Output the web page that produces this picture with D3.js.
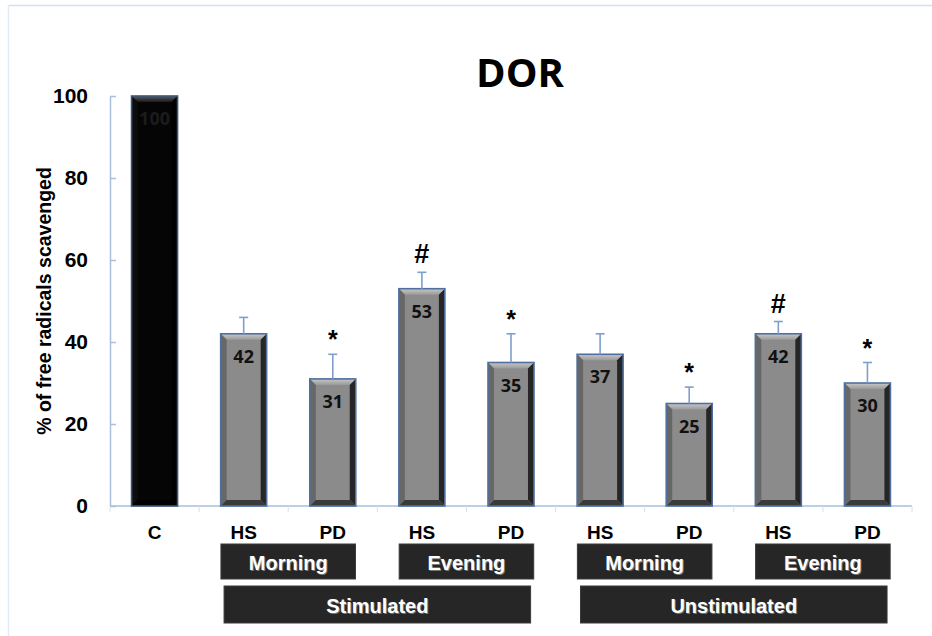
<!DOCTYPE html>
<html>
<head>
<meta charset="utf-8">
<script src="https://cdn.jsdelivr.net/npm/d3@7"></script>
<style>
  body { margin: 0; background: #fff; }
  svg { display: block; }
</style>
</head>
<body>
<div id="chart"></div>
<script>
// data
const categories = ["C", "HS1", "PD1", "HS2", "PD2", "HS3", "PD3", "HS4", "PD4"];
const catLabels = ["C", "HS", "PD", "HS", "PD", "HS", "PD", "HS", "PD"];
const values = [100, 42, 31, 53, 35, 37, 25, 42, 30];
const errors = [0, 4, 6, 4, 7, 5, 4, 3, 5];
const marks = ["", "", "*", "#", "*", "", "*", "#", "*"];
const yTicks = [0, 20, 40, 60, 80, 100];
const timeLabels = ["Morning", "Evening", "Morning", "Evening"];
const timeSpans = [["HS1", "PD1"], ["HS2", "PD2"], ["HS3", "PD3"], ["HS4", "PD4"]];
const stimLabels = ["Stimulated", "Unstimulated"];
const stimSpans = [["HS1", "PD2"], ["HS3", "PD4"]];

const W = 932, H = 636;
const plot = { left: 110, right: 912, top: 96, bottom: 506 };
const arial = "'Liberation Sans', Arial, sans-serif";
const axisColor = "#a9bfdc";

const svg = d3.select("#chart").append("svg")
    .attr("width", W)
    .attr("height", H);

// faint frame of the original slide
svg.append("line").attr("x1", 8).attr("x2", W).attr("y1", 5.5).attr("y2", 5.5)
    .attr("stroke", "#d3e0ef").attr("stroke-width", 1.5);
svg.append("line").attr("x1", 8.5).attr("x2", 8.5).attr("y1", 5).attr("y2", H)
    .attr("stroke", "#e3ebf5").attr("stroke-width", 1.5);

const x = d3.scaleBand().domain(categories).range([plot.left, plot.right])
    .paddingInner(0.484).paddingOuter(0.242);
const y = d3.scaleLinear().domain([0, 100]).range([plot.bottom, plot.top]);
const bw = x.bandwidth();
const gap = (x.step() - bw) / 2;

// gradients for the bevelled bars
const defs = svg.append("defs");
const topGrad = (id, c1, c2) => {
  const g = defs.append("linearGradient").attr("id", id)
      .attr("x1", 0).attr("y1", 0).attr("x2", 0).attr("y2", 1);
  g.append("stop").attr("offset", "0%").attr("stop-color", c1);
  g.append("stop").attr("offset", "100%").attr("stop-color", c2);
};
topGrad("topGray", "#c8c8c8", "#9a9a9a");
topGrad("topBlack", "#5e5e5e", "#1a1a1a");

const styles = {
  gray: { face: "#8b8b8b", top: "url(#topGray)", left: "#676767", right: "#262626", bottom: "#3a3a3a", stroke: "#4f6f9e" },
  black: { face: "#050505", top: "url(#topBlack)", left: "#0d0d0d", right: "#000", bottom: "#000", stroke: "#3d5478" }
};

// y axis
const yAxis = d3.axisLeft(y).tickValues(yTicks).tickSizeInner(-6).tickSizeOuter(0).tickPadding(22);
const gy = svg.append("g").attr("transform", `translate(${plot.left},0)`).call(yAxis);
gy.select(".domain").attr("stroke", axisColor).attr("stroke-width", 1.5);
gy.selectAll(".tick line").attr("stroke", axisColor).attr("stroke-width", 1.5);
gy.selectAll(".tick text")
    .attr("font-family", arial).attr("font-weight", "bold").attr("font-size", 21).attr("fill", "#000");

// x axis baseline and separators between categories
svg.append("line")
    .attr("x1", plot.left).attr("x2", plot.right)
    .attr("y1", y(0)).attr("y2", y(0))
    .attr("stroke", axisColor).attr("stroke-width", 1.5);
const edges = categories.map(c => x(c) - gap).concat([x(categories[categories.length - 1]) + bw + gap]);
svg.selectAll(".xsep").data(edges).enter().append("line")
    .attr("x1", d => d).attr("x2", d => d)
    .attr("y1", y(0)).attr("y2", y(0) + 6)
    .attr("stroke", "#d5e0ee").attr("stroke-width", 1);

// bars
const rows = categories.map((c, i) => ({ id: c, label: catLabels[i], v: values[i], e: errors[i], mark: marks[i] }));
const bevel = 6;

const bars = svg.selectAll(".bar").data(rows).enter().append("g").attr("class", "bar");

bars.each(function (d) {
  const g = d3.select(this);
  const s = d.id === "C" ? styles.black : styles.gray;
  const x0 = x(d.id), x1 = x0 + bw, yt = y(d.v), yb = y(0), b = bevel;
  const poly = pts => pts.map(p => p.join(",")).join(" ");
  g.append("rect").attr("x", x0).attr("y", yt).attr("width", bw).attr("height", yb - yt).attr("fill", s.face);
  g.append("polygon").attr("points", poly([[x0, yt], [x1, yt], [x1 - b, yt + b], [x0 + b, yt + b]])).attr("fill", s.top);
  g.append("polygon").attr("points", poly([[x0, yt], [x0 + b, yt + b], [x0 + b, yb - b], [x0, yb]])).attr("fill", s.left);
  g.append("polygon").attr("points", poly([[x1, yt], [x1, yb], [x1 - b, yb - b], [x1 - b, yt + b]])).attr("fill", s.right);
  g.append("polygon").attr("points", poly([[x0, yb], [x1, yb], [x1 - b, yb - b], [x0 + b, yb - b]])).attr("fill", s.bottom);
  g.append("rect").attr("x", x0).attr("y", yt).attr("width", bw).attr("height", yb - yt)
      .attr("fill", "none").attr("stroke", s.stroke).attr("stroke-width", 1.6);
});

// error bars (upper only)
const errColor = "#7d9fcc";
const eb = svg.selectAll(".err").data(rows.filter(d => d.e > 0)).enter().append("g");
eb.append("line")
    .attr("x1", d => x(d.id) + bw / 2).attr("x2", d => x(d.id) + bw / 2)
    .attr("y1", d => y(d.v)).attr("y2", d => y(d.v + d.e))
    .attr("stroke", errColor).attr("stroke-width", 1.6);
eb.append("line")
    .attr("x1", d => x(d.id) + bw / 2 - 4.5).attr("x2", d => x(d.id) + bw / 2 + 4.5)
    .attr("y1", d => y(d.v + d.e)).attr("y2", d => y(d.v + d.e))
    .attr("stroke", errColor).attr("stroke-width", 1.6);

// value labels inside bars
svg.selectAll(".val").data(rows).enter().append("text")
    .attr("x", d => x(d.id) + bw / 2)
    .attr("y", d => y(d.v) + 29)
    .attr("text-anchor", "middle")
    .attr("font-family", "'Open Sans', sans-serif")
    .attr("font-weight", "bold")
    .attr("font-size", 18)
    .attr("fill", d => d.id === "C" ? "#1c1c1c" : "#111")
    .text(d => d.v);

// significance marks
svg.selectAll(".mark").data(rows.filter(d => d.mark)).enter().append("text")
    .attr("x", d => x(d.id) + bw / 2)
    .attr("y", d => y(d.v + d.e) - (d.mark === "*" ? 6 : 9))
    .attr("text-anchor", "middle")
    .attr("font-family", arial)
    .attr("font-weight", "bold")
    .attr("font-size", d => d.mark === "*" ? 25 : 27)
    .attr("fill", "#000")
    .text(d => d.mark);

// category labels
svg.selectAll(".cat").data(rows).enter().append("text")
    .attr("x", d => x(d.id) + bw / 2)
    .attr("y", 539)
    .attr("text-anchor", "middle")
    .attr("font-family", arial)
    .attr("font-weight", "bold")
    .attr("font-size", 19)
    .attr("fill", "#000")
    .text(d => d.label);

// group boxes under the axis
const groupBox = (labels, spans, widthSteps, top, h) => {
  const g = svg.append("g");
  labels.forEach((lab, i) => {
    const [a, b] = spans[i];
    const cx = (x(a) + x(b) + bw) / 2;
    const w = widthSteps * x.step();
    g.append("rect").attr("x", cx - w / 2).attr("y", top).attr("width", w).attr("height", h)
        .attr("fill", "#262626").attr("stroke", "#3a3a3a").attr("stroke-width", 1);
    g.append("text").attr("x", cx + 1).attr("y", top + h / 2 + 8 + 1)
        .attr("text-anchor", "middle").attr("font-family", arial).attr("font-weight", "bold")
        .attr("font-size", 20).attr("fill", "#777").text(lab);
    g.append("text").attr("x", cx).attr("y", top + h / 2 + 8)
        .attr("text-anchor", "middle").attr("font-family", arial).attr("font-weight", "bold")
        .attr("font-size", 20).attr("fill", "#fff").text(lab);
  });
};
groupBox(timeLabels, timeSpans, 1.51, 544, 35);
groupBox(stimLabels, stimSpans, 3.44, 586, 37);

// title
svg.append("text")
    .attr("x", 520).attr("y", 87)
    .attr("text-anchor", "middle")
    .attr("font-family", "'Open Sans', sans-serif")
    .attr("font-weight", "bold")
    .attr("font-size", 40)
    .attr("fill", "#000")
    .text("DOR");

// y axis title
svg.append("text")
    .attr("transform", `translate(51,${(plot.top + plot.bottom) / 2}) rotate(-90)`)
    .attr("text-anchor", "middle")
    .attr("font-family", arial)
    .attr("font-weight", "bold")
    .attr("font-size", 19.5)
    .attr("fill", "#000")
    .text("% of free radicals scavenged");
</script>
</body>
</html>
